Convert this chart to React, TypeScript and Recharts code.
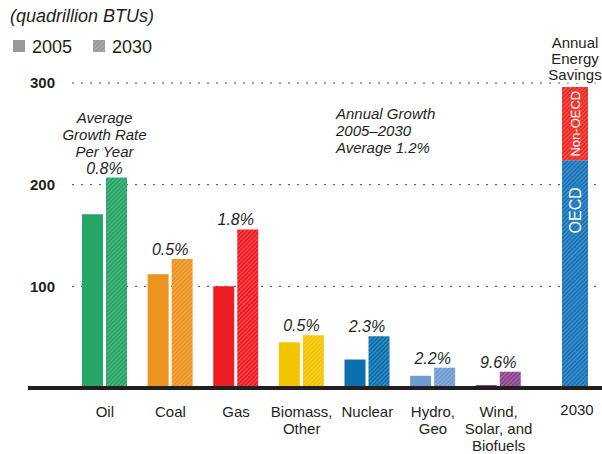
import React from 'react';
import { BarChart, Bar, XAxis, YAxis, CartesianGrid, LabelList, Cell } from 'recharts';

const categories = ['Oil', 'Coal', 'Gas', 'Biomass,\nOther', 'Nuclear', 'Hydro,\nGeo', 'Wind,\nSolar, and\nBiofuels', '2030'];
const use2005 = [171, 112, 100, 45, 28, 12, 3, null];
const use2030 = [207, 127, 156, 52, 51, 20, 16, null];
const growthRates = ['0.8%', '0.5%', '1.8%', '0.5%', '2.3%', '2.2%', '9.6%', null];
const savingsOECD = [null, null, null, null, null, null, null, 224];
const savingsNonOECD = [null, null, null, null, null, null, null, 72];
const fuelColors = ['#25a566', '#ec9320', '#ee1d25', '#f5c400', '#0a70ae', '#6f9bd1', '#8e4391', '#999999'];
const yTicks = [100, 200, 300];
const oilNote = ['Average', 'Growth Rate', 'Per Year'];
const growthNote = ['Annual Growth', '2005\u20132030', 'Average 1.2%'];
const savingsNote = ['Annual', 'Energy', 'Savings'];

const INK = '#231f20';
const FONT = '"Liberation Sans", Arial, Helvetica, sans-serif';

const data = categories.map((name, i) => ({
  name,
  v2005: use2005[i],
  v2030: use2030[i],
  growth: growthRates[i],
  oecd: savingsOECD[i],
  nonOecd: savingsNonOECD[i],
}));

const Hatch = ({ id, color }: { id: string; color: string }) => (
  <pattern id={id} patternUnits="userSpaceOnUse" width={3} height={3} patternTransform="rotate(45)">
    <rect width={3} height={3} fill={color} />
    <line x1={0} y1={0} x2={0} y2={3} stroke="#fff" strokeOpacity={0.45} strokeWidth={1} />
  </pattern>
);

const CategoryTick = ({ x, y, payload }: any) => {
  // the 2030 label is drawn under the savings bar
  if (payload.value === '2030') return <g />;
  const lines = String(payload.value).split('\n');
  return (
    <text x={x} y={y} textAnchor="middle" fill={INK} fontSize={15} fontFamily={FONT}>
      {lines.map((l, i) => (
        <tspan key={i} x={x} dy={i === 0 ? 27 : 17}>{l}</tspan>
      ))}
    </text>
  );
};

const GrowthLabel = ({ x, y, value, index }: any) => {
  if (!value) return null;
  const cx = x - 1.5;
  const lines = index === 0 ? [...oilNote, value] : [value];
  return (
    <text x={cx} y={y - 4 - (lines.length - 1) * 17} textAnchor="middle" fontStyle="italic" fontSize={15} fill={INK} fontFamily={FONT}>
      {lines.map((l, i) => (
        <tspan key={i} x={cx} dy={i === 0 ? 0 : 17} fontSize={i === lines.length - 1 ? 16 : 15}>{l}</tspan>
      ))}
    </text>
  );
};

const OecdLabel = ({ x, y, width, height, value }: any) => {
  if (value == null) return null;
  const cx = x + width / 2;
  const cy = y + 50;
  return (
    <g fontFamily={FONT}>
      <text x={cx} y={cy} dy="0.36em" textAnchor="middle" fill="#fff" fontSize={16} transform={`rotate(-90 ${cx} ${cy})`}>OECD</text>
      <text x={cx + 2} y={y + height + 27} textAnchor="middle" fill={INK} fontSize={15}>2030</text>
    </g>
  );
};

const NonOecdLabel = ({ x, y, width, height, value }: any) => {
  if (value == null) return null;
  const cx = x + width / 2;
  const cy = y + height / 2;
  return (
    <g fontFamily={FONT}>
      <text x={cx} y={cy} dy="0.36em" textAnchor="middle" fill="#fff" fontSize={13} transform={`rotate(-90 ${cx} ${cy})`}>Non-OECD</text>
      <text x={cx} y={y - 39} textAnchor="middle" fill={INK} fontSize={15} stroke="#fff" strokeWidth={5} paintOrder="stroke">
        {savingsNote.map((l, i) => (
          <tspan key={i} x={cx} dy={i === 0 ? 0 : 16}>{l}</tspan>
        ))}
      </text>
    </g>
  );
};

export default function App() {
  return (
    <div style={{ position: 'absolute', left: 0, top: 0, width: 602, height: 454, background: '#fff', fontFamily: FONT }}>
      <BarChart width={602} height={454} data={data} margin={{ top: 83, right: 5, left: 0, bottom: 0 }} barGap={3}>
        <defs>
          {fuelColors.map((c, i) => <Hatch key={i} id={`hatch${i}`} color={c} />)}
          <Hatch id="hatchOECD" color="#1874ba" />
          <Hatch id="hatchNonOECD" color="#ee2a24" />
        </defs>
        <CartesianGrid vertical={false} stroke="#444" strokeDasharray="2 7" />
        <YAxis domain={[0, 300]} ticks={yTicks} width={72} axisLine={false} tickLine={false} tickSize={0} tickMargin={17}
          tick={{ fill: INK, fontSize: 15, fontWeight: 'bold', fontFamily: FONT }} />
        <XAxis dataKey="name" height={66} axisLine={false} tickLine={false} tickSize={0} interval={0} tick={<CategoryTick />} />
        <XAxis xAxisId="total" dataKey="name" hide padding={{ left: 173, right: 0 }} />
        <Bar dataKey="v2005" barSize={21} isAnimationActive={false}>
          {data.map((d, i) => <Cell key={i} fill={fuelColors[i]} />)}
        </Bar>
        <Bar dataKey="v2030" barSize={21} isAnimationActive={false}>
          {data.map((d, i) => <Cell key={i} fill={`url(#hatch${i})`} />)}
          <LabelList dataKey="growth" content={GrowthLabel} />
        </Bar>
        <Bar xAxisId="total" dataKey="oecd" stackId="savings" barSize={26} fill="url(#hatchOECD)" isAnimationActive={false}>
          <LabelList dataKey="oecd" content={OecdLabel} />
        </Bar>
        <Bar xAxisId="total" dataKey="nonOecd" stackId="savings" barSize={26} fill="url(#hatchNonOECD)" isAnimationActive={false}>
          <LabelList dataKey="nonOecd" content={NonOecdLabel} />
        </Bar>
        <text x={336} y={119} fontStyle="italic" fontSize={15} fill={INK} fontFamily={FONT}>
          {growthNote.map((l, i) => (
            <tspan key={i} x={336} dy={i === 0 ? 0 : 17}>{l}</tspan>
          ))}
        </text>
      </BarChart>
      <svg width={602} height={454} style={{ position: 'absolute', left: 0, top: 0, pointerEvents: 'none' }}>
        <defs>
          <Hatch id="hatchLegend" color="#999999" />
        </defs>
        <text x={10} y={22} fontStyle="italic" fontSize={18} fill={INK} fontFamily={FONT}>(quadrillion BTUs)</text>
        <rect x={13} y={40} width={12} height={12} fill="#999999" />
        <text x={32} y={53} fontSize={18} fill={INK} fontFamily={FONT}>2005</text>
        <rect x={93} y={40} width={12} height={12} fill="url(#hatchLegend)" />
        <text x={112} y={53} fontSize={18} fill={INK} fontFamily={FONT}>2030</text>
        <line x1={28} x2={602} y1={388} y2={388} stroke={INK} strokeWidth={4} />
      </svg>
    </div>
  );
}
